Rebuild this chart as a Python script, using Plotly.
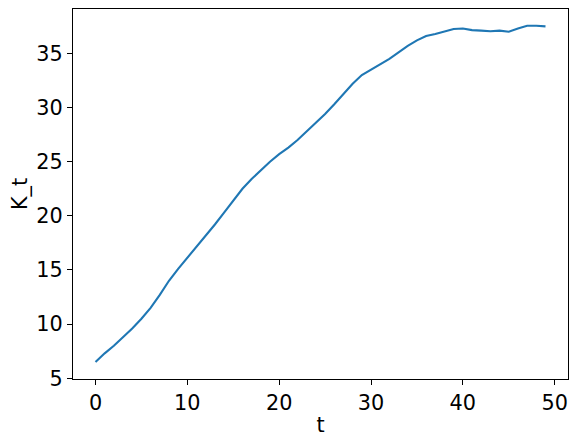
import plotly.graph_objects as go

t = list(range(50))
K_t = [6.5, 7.3, 8.0, 8.8, 9.6, 10.5, 11.5, 12.7, 14.0, 15.1,
       16.1, 17.2, 18.2, 19.2, 20.3, 21.4, 22.5, 23.4, 24.2, 25.0,
       25.7, 26.3, 27.0, 27.8, 28.6, 29.4, 30.3, 31.2, 32.2, 33.0,
       33.5, 34.0, 34.5, 35.1, 35.7, 36.2, 36.6, 36.8, 37.0, 37.25,
       37.3, 37.15, 37.1, 37.05, 37.1, 37.0, 37.3, 37.55, 37.55, 37.5]
x_ticks = [0, 10, 20, 30, 40, 50]
y_ticks = [5, 10, 15, 20, 25, 30, 35]

fig = go.Figure()
fig.add_trace(go.Scatter(x=t, y=K_t, mode="lines",
                         line=dict(color="#1f77b4", width=2.1),
                         showlegend=False))

font = dict(family="DejaVu Sans", size=20.8, color="black")
axis_common = dict(showgrid=False, zeroline=False, showline=True, linecolor="black",
                   linewidth=1.1, mirror=True, ticks="outside", ticklen=5,
                   tickwidth=1.1, tickcolor="black", tickfont=font)
fig.update_layout(
    width=570, height=436,
    margin=dict(l=65, r=10, t=1, b=65),
    paper_bgcolor="white", plot_bgcolor="white",
    font=font,
    xaxis=dict(range=[-2.45, 51.45], tickvals=x_ticks,
               title=dict(text="t", font=font, standoff=3), **axis_common),
    yaxis=dict(range=[4.93, 39.1], tickvals=y_ticks,
               title=dict(text="K_t", font=font, standoff=10), **axis_common),
)
fig.write_html("out.html")
